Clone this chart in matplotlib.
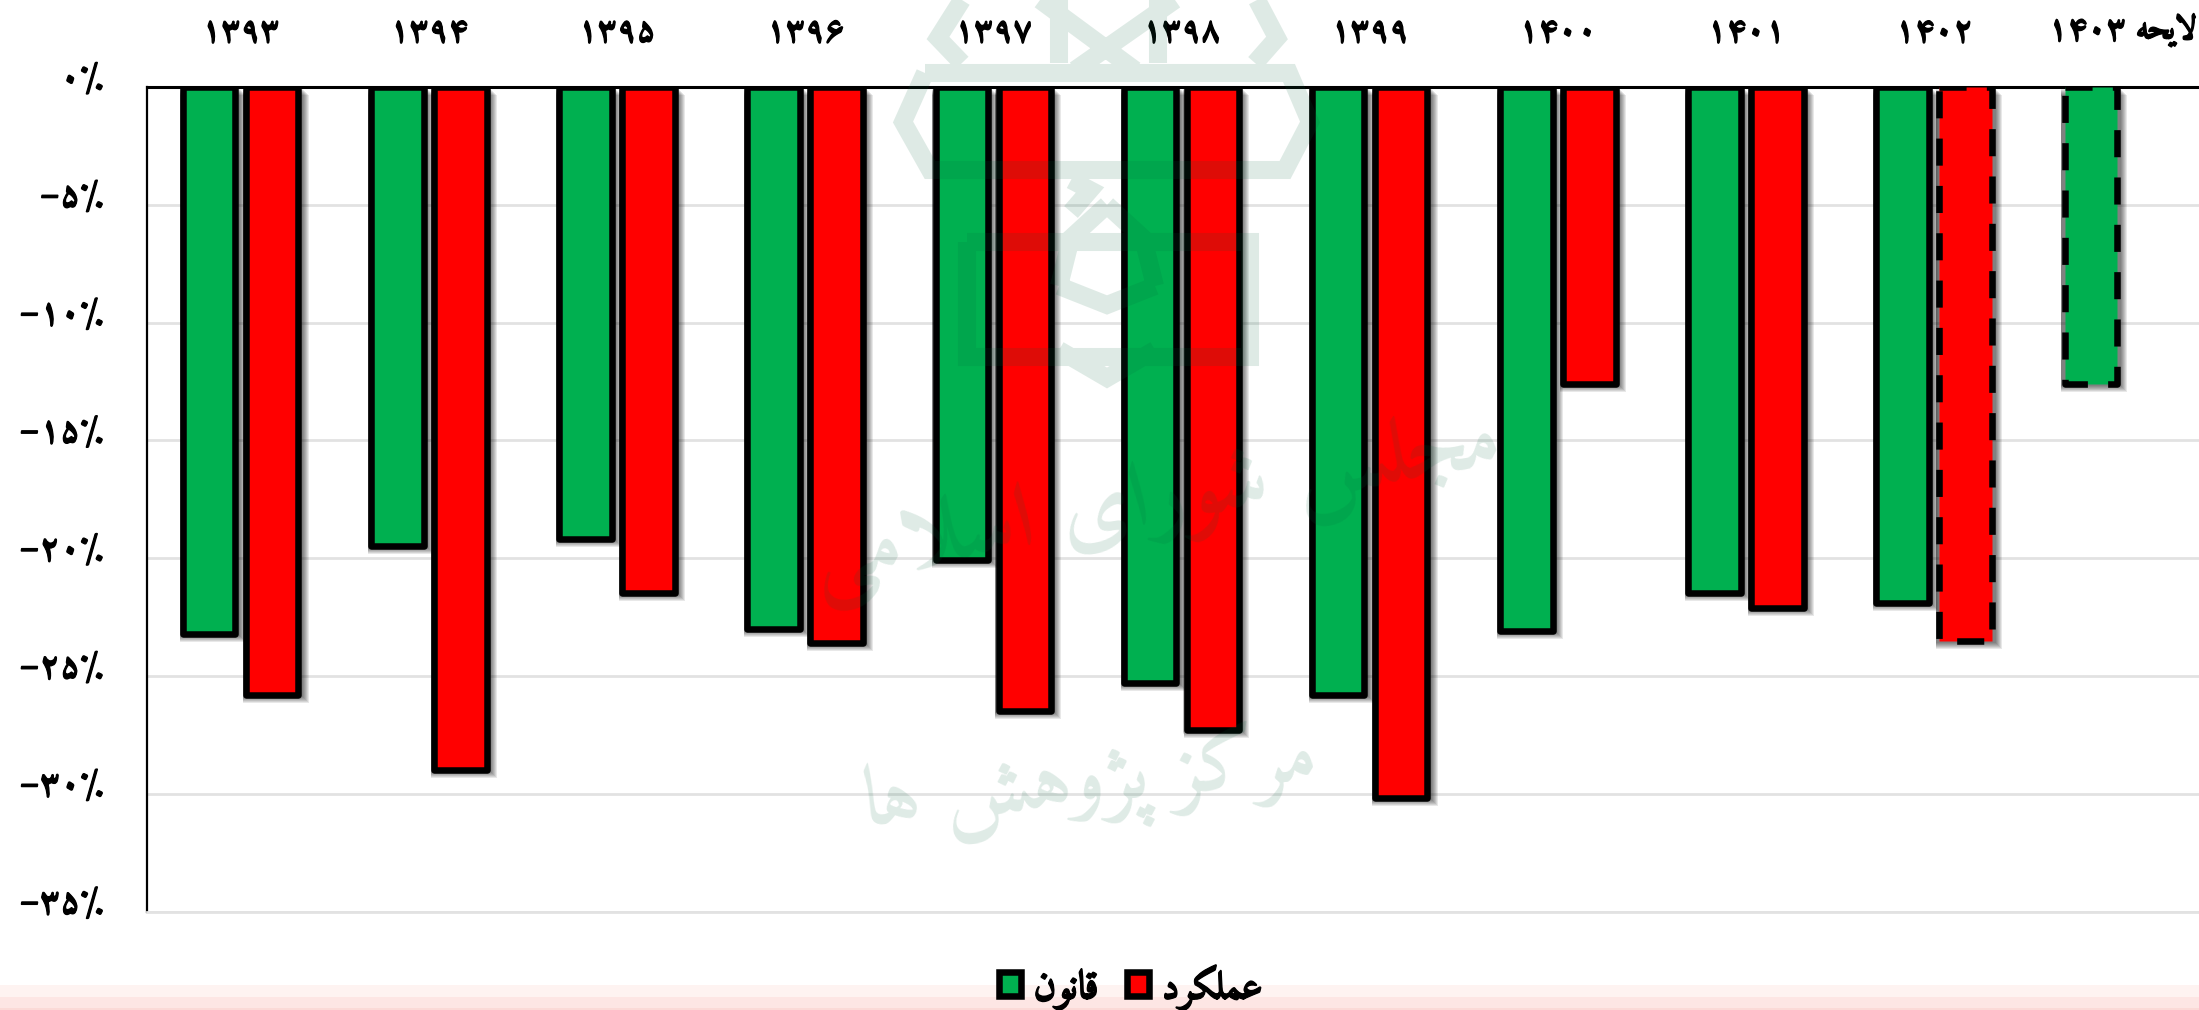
import matplotlib
matplotlib.use('Agg')
import matplotlib.pyplot as plt
import matplotlib.patheffects as pe
from matplotlib.path import Path
from matplotlib.patches import PathPatch, Rectangle
from matplotlib.transforms import ScaledTranslation

years = ['۱۳۹۳', '۱۳۹۴', '۱۳۹۵', '۱۳۹۶', '۱۳۹۷', '۱۳۹۸', '۱۳۹۹', '۱۴۰۰', '۱۴۰۱', '۱۴۰۲', '۱۴۰۳']
law = [-23.2, -19.5, -19.2, -23.0, -20.1, -25.3, -25.8, -23.1, -21.5, -21.9, -12.6]
actual = [-25.8, -29.0, -21.5, -23.6, -26.5, -27.3, -30.2, -12.6, -22.1, -23.5]
yticks = [0, -5, -10, -15, -20, -25, -30, -35]
ylabels = ['۰٪', '−۵٪', '−۱۰٪', '−۱۵٪', '−۲۰٪', '−۲۵٪', '−۳۰٪', '−۳۵٪']
law_name = 'قانون'
actual_name = 'عملکرد'
bill_word = 'لایحه'
mark_1 = 'مجلس شورای اسلامی'
mark_2 = 'مرکز پژوهش ها'

FONT = ['Amiri', 'DejaVu Sans']

# matplotlib does not shape arabic, so pick the joined forms by hand
FORMS = {
    'ا': (0xFE8D, 0xFE8E), 'د': (0xFEA9, 0xFEAA), 'ر': (0xFEAD, 0xFEAE),
    'ز': (0xFEAF, 0xFEB0), 'ژ': (0xFB8A, 0xFB8B), 'و': (0xFEED, 0xFEEE),
    'م': (0xFEE1, 0xFEE2, 0xFEE3, 0xFEE4), 'ج': (0xFE9D, 0xFE9E, 0xFE9F, 0xFEA0),
    'ل': (0xFEDD, 0xFEDE, 0xFEDF, 0xFEE0), 'س': (0xFEB1, 0xFEB2, 0xFEB3, 0xFEB4),
    'ش': (0xFEB5, 0xFEB6, 0xFEB7, 0xFEB8), 'ی': (0xFBFC, 0xFBFD, 0xFBFE, 0xFBFF),
    'ک': (0xFB8E, 0xFB8F, 0xFB90, 0xFB91), 'پ': (0xFB56, 0xFB57, 0xFB58, 0xFB59),
    'ه': (0xFEE9, 0xFEEA, 0xFEEB, 0xFEEC), 'ق': (0xFED5, 0xFED6, 0xFED7, 0xFED8),
    'ن': (0xFEE5, 0xFEE6, 0xFEE7, 0xFEE8), 'ع': (0xFEC9, 0xFECA, 0xFECB, 0xFECC),
    'ح': (0xFEA1, 0xFEA2, 0xFEA3, 0xFEA4),
}


def shape(s):
    out = []
    i = 0
    prev_joins = False
    while i < len(s):
        c = s[i]
        if c not in FORMS:
            out.append(c)
            prev_joins = False
            i += 1
            continue
        nxt = s[i + 1] if i + 1 < len(s) else ' '
        if c == 'ل' and nxt == 'ا':
            out.append(chr(0xFEFC if prev_joins else 0xFEFB))
            prev_joins = False
            i += 2
            continue
        f = FORMS[c]
        next_ok = nxt in FORMS and len(f) == 4
        if prev_joins and next_ok:
            g = f[3]
        elif prev_joins:
            g = f[1]
        elif next_ok:
            g = f[2]
        else:
            g = f[0]
        out.append(chr(g))
        prev_joins = len(f) == 4
        i += 1
    return ''.join(reversed(out))


W, H = 2199, 1010
fig = plt.figure(figsize=(W / 100, H / 100), dpi=100, facecolor='white')
plt.rcParams['font.family'] = FONT

# axes run past the right edge, the last label is nearly cut in the reference
ax = fig.add_axes([146.5 / W, (H - 911.5) / H, 2070 / W, 824.5 / H])
px = 1 / 188.2  # one pixel in x units
bar_w = 52.5 * px
off = 31.5 * px
x_law = list(range(len(law)))
x_act = list(range(len(actual)))

for r in range(1, 8):
    tr = ax.transData + ScaledTranslation(r / 200, -(r + 1) / 100, fig.dpi_scale_trans)
    sw = (59 + r) * px
    ax.bar([v - off for v in x_law], law, sw, color='k', alpha=0.09, lw=0, zorder=2, transform=tr)
    ax.bar([v + off for v in x_act], actual, sw, color='k', alpha=0.09, lw=0, zorder=2, transform=tr)

lw = 4.7
b1 = ax.bar([v - off for v in x_law], law, bar_w, color='#00B050', edgecolor='k', linewidth=lw, zorder=3, label=law_name)
b2 = ax.bar([v + off for v in x_act], actual, bar_w, color='#FF0000', edgecolor='k', linewidth=lw, zorder=3, label=actual_name)
for p in list(b1) + list(b2):
    p.set_joinstyle('round')
b1[10].set_linestyle((0, (4.15, 3.1)))
b2[9].set_linestyle((0, (4.15, 3.1)))

heavy = [pe.withStroke(linewidth=0.9, foreground='k')]
ax.set_xlim(-0.5, 10.5)
ax.set_ylim(-35, 0)
ax.set_yticks(yticks)
ax.set_yticklabels(ylabels, fontsize=25, fontweight='bold', va='baseline', path_effects=heavy)
ax.set_xticks(range(len(years)))
ax.set_xticklabels(years[:-1] + [years[-1] + ' ' + shape(bill_word)], fontsize=24, fontweight='bold', path_effects=heavy)
ax.xaxis.tick_top()
ax.tick_params(axis='both', length=0)
ax.tick_params(axis='x', pad=29)
ax.tick_params(axis='y', pad=31)
ax.grid(axis='y', color='#E2E2E2', linewidth=2, zorder=1)
ax.set_axisbelow(True)
ax.spines['right'].set_visible(False)
ax.spines['top'].set_linewidth(2.2)
ax.spines['left'].set_linewidth(1.6)
ax.spines['bottom'].set_color('#E2E2E2')
ax.spines['bottom'].set_linewidth(2)

# pale band along the bottom edge
for y0, y1, col in [(985, 997, '#FEF3F1'), (997, 1008, '#FDE6E4'), (1008, 1010, '#FBDAD7')]:
    fig.add_artist(Rectangle((0, 1 - y1 / H), 1, (y1 - y0) / H, transform=fig.transFigure, color=col, lw=0, zorder=0))

leg = fig.legend(handles=[b1, b2], labels=[shape(law_name), shape(actual_name)], ncol=2, frameon=False,
                 loc='center', bbox_to_anchor=(1131 / W, 1 - 988 / H), prop={'family': FONT, 'weight': 'bold', 'size': 29},
                 handlelength=0.55, handleheight=0.55, handletextpad=0.3, columnspacing=0.7, borderpad=0)
for t in leg.get_texts():
    t.set_path_effects(heavy)

# watermark lies over the bars
wm = fig.add_axes([0, 0, 1, 1], facecolor='none')
wm.set_xlim(0, W)
wm.set_ylim(H, 0)
wm.axis('off')
emblem = [
    [(925, 73), (1289, 73), (1310, 122), (1285, 170), (930, 170), (903, 122), (925, 73)],
    [(962, 63), (938, 38), (962, 0)],
    [(1255, 63), (1277, 38), (1257, 0)],
    [(1040, 0), (1135, 70)],
    [(1175, 0), (1075, 70)],
    [(1059, 0), (1059, 63)],
    [(1158, 0), (1158, 63)],
    [(967, 242), (1250, 242), (1250, 357), (967, 357), (967, 242)],
    [(1059, 286), (1107, 305), (1155, 286)],
    [(1059, 350), (1107, 378), (1155, 350)],
    [(1107, 205), (1071, 238), (1059, 286)],
    [(1107, 205), (1143, 238), (1155, 286)],
    [(1071, 180), (1090, 190), (1071, 212)],
]
verts, codes = [], []
for line in emblem:
    for k, pt in enumerate(line):
        verts.append(pt)
        codes.append(Path.MOVETO if k == 0 else Path.LINETO)
wm.add_patch(PathPatch(Path(verts, codes), fill=False, edgecolor='#00643C', alpha=0.13, linewidth=13, joinstyle='miter', capstyle='butt'))
wm.text(1157, 505, shape(mark_1), family=FONT, fontsize=66, fontweight='bold', color='#00643C', alpha=0.13, rotation=10, ha='center', va='center')
wm.text(1090, 785, shape(mark_2), family=FONT, fontsize=60, fontweight='bold', color='#00643C', alpha=0.13, rotation=6, ha='center', va='center')

fig.savefig('out.png', dpi=100)
